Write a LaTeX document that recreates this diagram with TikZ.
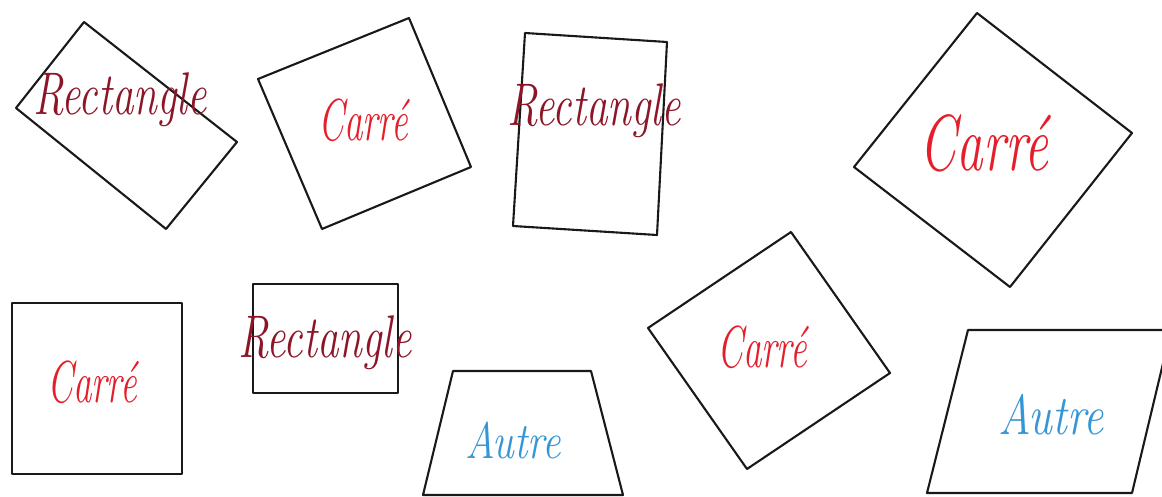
\documentclass[tikz,border=0pt]{standalone}
\definecolor{rectred}{RGB}{140,22,40}
\definecolor{carrered}{RGB}{228,30,42}
\definecolor{autreblue}{RGB}{52,150,214}
\tikzset{
  shapeline/.style={draw=black!90, line width=2.1pt, line join=round},
  lrect/.style={text=rectred, inner sep=0pt},
  lcarre/.style={text=carrered, inner sep=0pt},
  lautre/.style={text=autreblue, inner sep=0pt}
}
\newcommand{\cur}[3]{\scalebox{1}[#2]{\fontsize{#1}{#1}\selectfont\itshape #3}}
\begin{document}
\begin{tikzpicture}[x=1pt,y=-1pt]
\useasboundingbox (0,0) rectangle (1162,497);
\fill[white] (0,0) rectangle (1162,497);
% shapes
\draw[shapeline] (84,22) -- (237,142) -- (166,229) -- (16,108) -- cycle;
\draw[shapeline] (409,18) -- (471,167) -- (322,229) -- (258,79) -- cycle;
\draw[shapeline] (525,33) -- (667,42) -- (657,235) -- (513,226) -- cycle;
\draw[shapeline] (977,13) -- (1132,133) -- (1010,287) -- (854,167) -- cycle;
\draw[shapeline] (12,303) rectangle (182,474);
\draw[shapeline] (253,284) rectangle (398,393);
\draw[shapeline] (453,371) -- (591,371) -- (623,495) -- (423,495) -- cycle;
\draw[shapeline] (791,232) -- (890,373) -- (747,469) -- (648,328) -- cycle;
\draw[shapeline] (968,330) -- (1171,330) -- (1132,493) -- (927,493) -- cycle;
% labels
\node[lrect] (r1) at (120,100) {\cur{43}{1.4}{Rectangle}};
\node[lcarre] (c1) at (363,120) {\cur{37}{1.6}{Carré}};
\node[lrect] (r2) at (594,111) {\cur{43}{1.4}{Rectangle}};
\node[lcarre] (c2) at (984,143) {\cur{53}{1.5}{Carré}};
\node[lcarre] (c3) at (92,382) {\cur{37}{1.6}{Carré}};
\node[lrect] (r3) at (325,343) {\cur{43}{1.4}{Rectangle}};
\node[lautre] (a1) at (513,440) {\cur{41}{1.25}{Autre}};
\node[lcarre] (c4) at (762,347) {\cur{37}{1.6}{Carré}};
\node[lautre] (a2) at (1051,415) {\cur{45}{1.25}{Autre}};
\end{tikzpicture}
\end{document}
